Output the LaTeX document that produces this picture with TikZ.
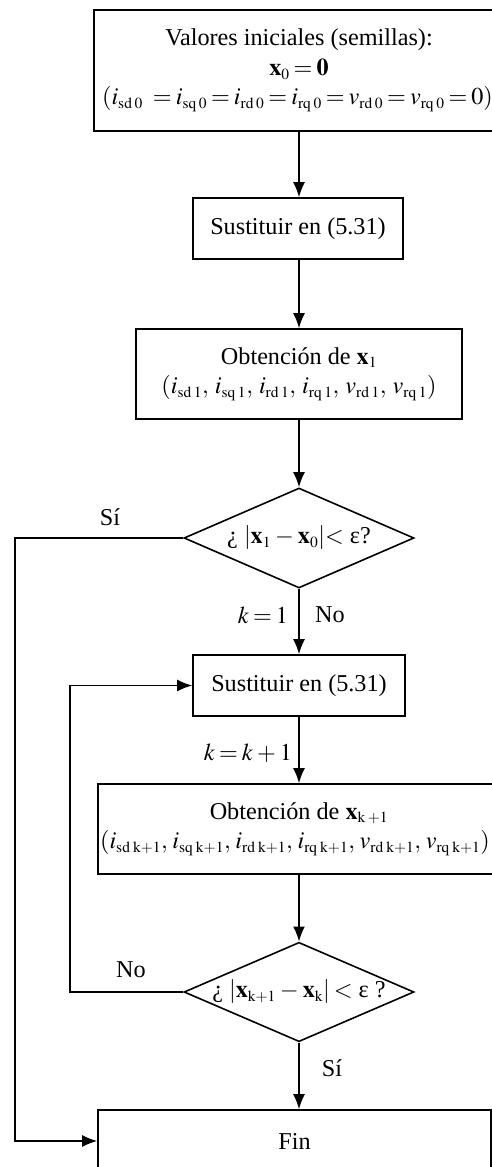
\documentclass[tikz,border=0pt]{standalone}
\usepackage{mathptmx}
\usepackage{fontspec}
\setmainfont{Liberation Serif}
\usetikzlibrary{arrows.meta,shapes.geometric}
\DeclareMathSizes{24.2}{24.2}{15.5}{11}
\tikzset{
  box/.style={draw, line width=1.6pt, align=center, inner sep=0pt},
  cond/.style={draw, diamond, line width=1.6pt, inner sep=0pt, aspect=2.3, minimum width=230pt},
  link/.style={line width=1.6pt, -{Latex[length=15pt,width=12pt]}},
  lbl/.style={inner sep=0pt}
}
\thickmuskip=3mu plus 1mu
\medmuskip=3mu plus 1mu
\thinmuskip=4.5mu
\begin{document}
\begin{tikzpicture}[x=1pt,y=-1pt,font=\fontsize{24.2}{29.5}\selectfont]
\useasboundingbox (0,0) rectangle (492,1167);
\clip (0,0) rectangle (492,1167);
\node[box, minimum width=410pt, minimum height=121pt] (b1) at (299,70.5)
  {Valores iniciales (semillas):\\ $\mathbf{x}_0 = \mathbf{0}$\\
   \hspace*{-3pt}$(i_{\mathrm{sd}\;0}\ = i_{\mathrm{sq}\;0} = i_{\mathrm{rd}\;0} = i_{\mathrm{rq}\;0} = v_{\mathrm{rd}\;0} = v_{\mathrm{rq}\;0} = 0)$};
\node[box, minimum width=210pt, minimum height=61pt] (b2) at (298,228.5) {Sustituir en (5.31)};
\node[box, minimum width=326pt, minimum height=90pt] (b3) at (299,374)
  {Obtención de $\mathbf{x}_1$\\
   $(i_{\mathrm{sd}\;1}, i_{\mathrm{sq}\;1}, i_{\mathrm{rd}\;1}, i_{\mathrm{rq}\;1}, v_{\mathrm{rd}\;1}, v_{\mathrm{rq}\;1})$};
\node[cond, minimum height=100pt] (d1) at (299,538) {¿ $|\mathbf{x}_1 - \mathbf{x}_0|{<}$ ε?};
\node[box, minimum width=212pt, minimum height=61pt] (b4) at (299,685.5) {Sustituir en (5.31)};
\node[box, minimum width=402pt, minimum height=90pt] (b5) at (299,829)
  {Obtención de $\mathbf{x}_{\mathrm{k}\;+1}$\\
   \hspace*{-8pt}{\thinmuskip=3.5mu$(i_{\mathrm{sd\,k+1}}, i_{\mathrm{sq\,k+1}}, i_{\mathrm{rd\,k+1}}, i_{\mathrm{rq\,k+1}}, v_{\mathrm{rd\,k+1}}, v_{\mathrm{rq\,k+1}})$}};
\node[cond, minimum height=98pt] (d2) at (299,992) {¿ $|\mathbf{x}_{\mathrm{k+1}} - \mathbf{x}_{\mathrm{k}}| <$ ε ?};
\node[box, minimum width=393pt, minimum height=62pt] (fin) at (294.5,1141) {Fin};

\coordinate (c1) at (15,0);
\coordinate (c2) at (70,0);

\draw[link] (b1.south) -- (b1.south |- b2.north);
\draw[link] (b2.south -| b1.south) -- (b3.north);
\draw[link] (b3.south) -- (d1.north);
\draw[link] (d1.south) -- (b4.north);
\draw[link] (b4.south) -- (b5.north);
\draw[link] (b5.south) -- (d2.north);
\draw[link] (d2.south) -- (d2.south |- fin.north);
\draw[link] (d1.west) -| (c1 |- fin.west) -- (fin.west);
\draw[link] (d2.west) -| (c2 |- b4.west) -- (b4.west);

\node[lbl] (l1) at (110,517) {Sí};
\node[lbl] (l2) at (263,615) {$k = 1$};
\node[lbl] (l3) at (330,615) {No};
\node[lbl] (l4) at (248,753) {$k = k + 1$};
\node[lbl] (l5) at (131,970) {No};
\node[lbl] (l6) at (332,1068) {Sí};
\end{tikzpicture}
\end{document}
